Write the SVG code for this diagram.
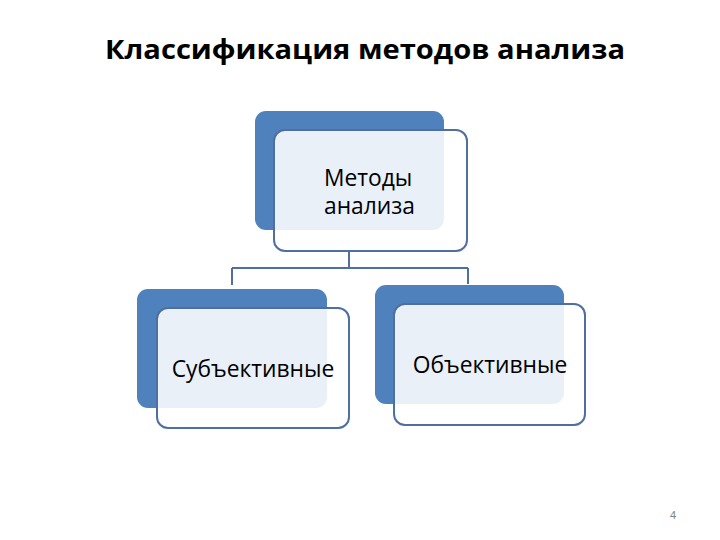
<svg xmlns="http://www.w3.org/2000/svg" width="720" height="540" viewBox="0 0 720 540">
<style>
.back{fill:#4F81BD}
.front{fill:#ffffff;fill-opacity:0.88;stroke:#4E6F9F;stroke-width:2}
.lbl{font-family:"Open Sans","DejaVu Sans",sans-serif;font-size:22.8px;fill:#000}
.conn{fill:none;stroke:#4E6F9F;stroke-width:2}
</style>
<rect width="720" height="540" fill="#ffffff"/>
<text x="365" y="59" text-anchor="middle" font-family="'Open Sans','Liberation Sans',sans-serif" font-weight="bold" font-size="27" textLength="520" lengthAdjust="spacingAndGlyphs" fill="#000">Классификация методов анализа</text>
<g id="connectors">
<path class="conn" d="M349,252 V268 M232,268 H468 M232,268 V285 M468,268 V284"/>
</g>
<g id="node-top">
<rect class="back" x="255" y="111" width="189" height="119" rx="11"/>
<rect class="front" x="274" y="130" width="193" height="121" rx="11"/>
<text class="lbl" x="324" y="186">Методы</text>
<text class="lbl" x="324" y="214">анализа</text>
</g>
<g id="node-left">
<rect class="back" x="137" y="289" width="190" height="119" rx="11"/>
<rect class="front" x="157" y="308" width="192" height="120" rx="11"/>
<text class="lbl" x="253" y="377" text-anchor="middle">Субъективные</text>
</g>
<g id="node-right">
<rect class="back" x="375" y="285" width="189" height="119" rx="11"/>
<rect class="front" x="394" y="304" width="191" height="121" rx="11"/>
<text class="lbl" x="490" y="373" text-anchor="middle">Объективные</text>
</g>
<text x="673" y="519" text-anchor="middle" font-family="'Liberation Sans',sans-serif" font-size="11" fill="#808080">4</text>
</svg>
